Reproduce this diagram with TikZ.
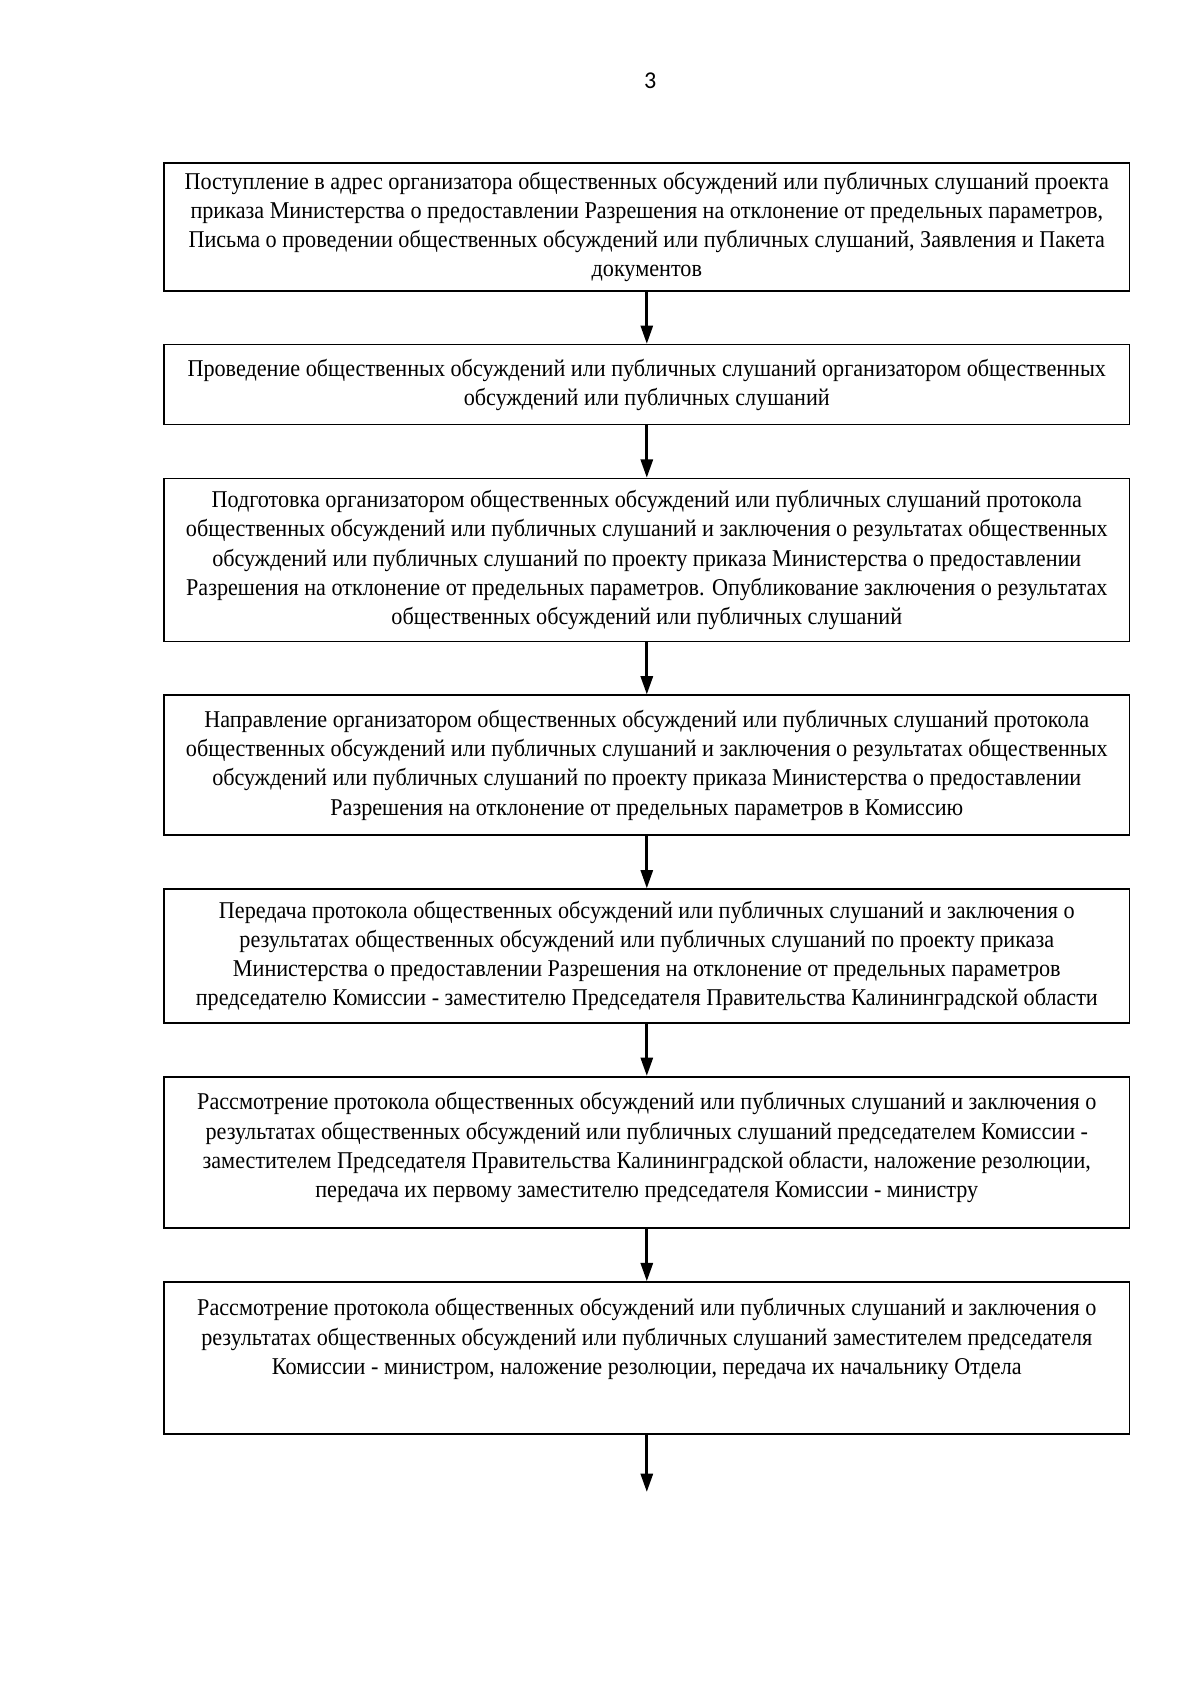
\documentclass[tikz,border=0pt]{standalone}
\usepackage{fontspec}
\setmainfont[FakeStretch=0.92]{Liberation Serif}
\newfontfamily\pagenumfont{Carlito}
\usetikzlibrary{arrows.meta,positioning}
\tikzset{
  >={Triangle[length=3.2mm,width=2.1mm]},
  stepbox/.style={rectangle,draw,line width=0.8pt,minimum width=169mm,
                  align=center,inner sep=2pt,
                  font=\fontsize{12}{14.5}\selectfont},
  arr/.style={->,line width=1.4pt},
}

\begin{document}
\begin{tikzpicture}[node distance=9.15mm]
    \useasboundingbox (0,0) rectangle (210mm,-297mm);

    % Page number
    \node[font=\pagenumfont\fontsize{12}{14}\selectfont] (pnum) at (113.8mm,-14.2mm) {3};

    % Steps
    \node[stepbox,minimum height=22.4mm,anchor=north] (s1) at (113.2mm,-28.35mm)
      {Поступление в адрес организатора общественных обсуждений или публичных слушаний проекта\\
       приказа Министерства о предоставлении Разрешения на отклонение от предельных параметров,\\
       Письма о проведении общественных обсуждений или публичных слушаний, Заявления и Пакета\\
       документов};
    \node[stepbox,minimum height=14mm,below=of s1] (s2)
      {Проведение общественных обсуждений или публичных слушаний организатором общественных\\
       обсуждений или публичных слушаний};
    \node[stepbox,minimum height=28.5mm,below=of s2] (s3)
      {Подготовка организатором общественных обсуждений или публичных слушаний протокола\\
       общественных обсуждений или публичных слушаний и заключения о результатах общественных\\
       обсуждений или публичных слушаний по проекту приказа Министерства о предоставлении\\
       Разрешения на отклонение от предельных параметров. Опубликование заключения о результатах\\
       общественных обсуждений или публичных слушаний};
    \node[stepbox,minimum height=24.5mm,below=of s3] (s4)
      {Направление организатором общественных обсуждений или публичных слушаний протокола\\
       общественных обсуждений или публичных слушаний и заключения о результатах общественных\\
       обсуждений или публичных слушаний по проекту приказа Министерства о предоставлении\\
       Разрешения на отклонение от предельных параметров в Комиссию};
    \node[stepbox,minimum height=23.4mm,below=of s4] (s5)
      {Передача протокола общественных обсуждений или публичных слушаний и заключения о\\
       результатах общественных обсуждений или публичных слушаний по проекту приказа\\
       Министерства о предоставлении Разрешения на отклонение от предельных параметров\\
       председателю Комиссии - заместителю Председателя Правительства Калининградской области};
    \node[stepbox,minimum height=26.5mm,below=of s5] (s6)
      {Рассмотрение протокола общественных обсуждений или публичных слушаний и заключения о\\
       результатах общественных обсуждений или публичных слушаний председателем Комиссии -\\
       заместителем Председателя Правительства Калининградской области, наложение резолюции,\\
       передача их первому заместителю председателя Комиссии - министру\\[-7pt]\mbox{}};
    \node[stepbox,minimum height=26.6mm,below=of s6] (s7)
      {Рассмотрение протокола общественных обсуждений или публичных слушаний и заключения о\\
       результатах общественных обсуждений или публичных слушаний заместителем председателя\\
       Комиссии - министром, наложение резолюции, передача их начальнику Отдела\\[7pt]\mbox{}};
    \coordinate[below=10mm of s7.south] (next);

    % Arrows
    \foreach \a/\b in {s1/s2,s2/s3,s3/s4,s4/s5,s5/s6,s6/s7}
      \draw[arr] (\a) -- (\b);
    \draw[arr] (s7) -- (next);
\end{tikzpicture}
\end{document}
